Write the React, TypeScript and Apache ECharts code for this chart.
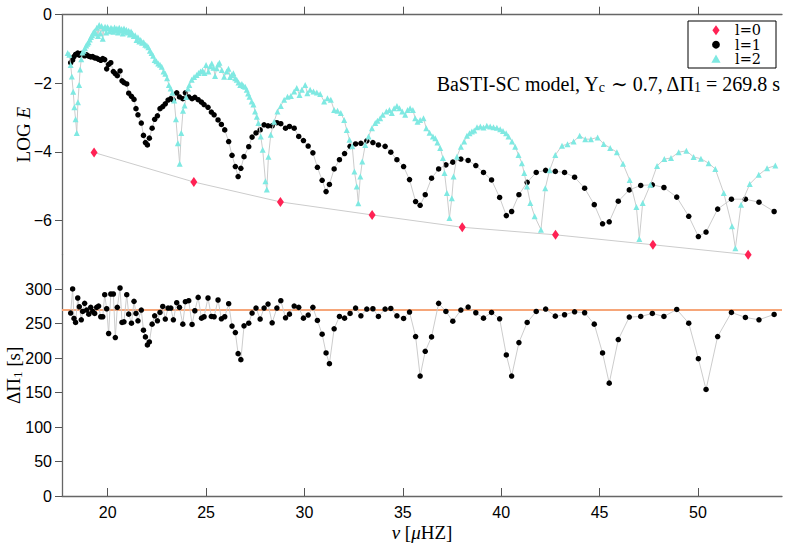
import React, { useEffect, useRef } from 'react';
import * as echarts from 'echarts';

// ---------- data ----------
const xTickValues = [20, 25, 30, 35, 40, 45, 50];
const topYTickValues = [-6, -4, -2, 0];
const bottomYTickValues = [0, 50, 100, 150, 200, 250, 300];

const legendLabels = ['l=0', 'l=1', 'l=2'];

const l0Freq = [19.31, 24.38, 28.78, 33.44, 38.02, 42.76, 47.71, 52.55];
const l0LogE = [-4.02, -4.88, -5.46, -5.84, -6.2, -6.42, -6.71, -7.0];

const l1Freq = [
  18.12, 18.22, 18.29, 18.37, 18.48, 18.56, 18.66, 18.73, 18.83, 18.93,
  19.04, 19.14, 19.24, 19.34, 19.44, 19.54, 19.65, 19.75, 19.85, 19.95,
  20.05, 20.16, 20.29, 20.39, 20.49, 20.63, 20.73, 20.83, 20.97, 21.07,
  21.21, 21.34, 21.44, 21.54, 21.71, 21.82, 21.92, 22.02, 22.12, 22.26,
  22.39, 22.53, 22.66, 22.8, 22.93, 23.07, 23.21, 23.34, 23.51, 23.65,
  23.82, 23.95, 24.12, 24.29, 24.43, 24.6, 24.77, 24.9, 25.1, 25.27,
  25.41, 25.61, 25.78, 25.95, 26.15, 26.32, 26.49, 26.63, 26.77, 26.93,
  27.17, 27.34, 27.54, 27.75, 27.95, 28.15, 28.36, 28.6, 28.8, 29.04,
  29.24, 29.48, 29.71, 29.95, 30.19, 30.43, 30.66, 30.9, 31.1, 31.27,
  31.51, 31.78, 32.04, 32.32, 32.6, 32.87, 33.17, 33.48, 33.76, 34.1,
  34.39, 34.7, 35.04, 35.34, 35.65, 35.88, 36.14, 36.46, 36.82, 37.19,
  37.54, 37.95, 38.32, 38.71, 39.1, 39.51, 39.92, 40.26, 40.53, 40.9,
  41.32, 41.78, 42.26, 42.75, 43.22, 43.73, 44.24, 44.73, 45.15, 45.49,
  45.95, 46.51, 47.09, 47.68, 48.27, 48.92, 49.53, 50.02, 50.41, 51.0,
  51.7, 52.41, 53.1, 53.87,
];
const l1LogE = [
  -1.4, -1.32, -1.22, -1.16, -1.12, -1.18, -1.13, -1.16, -1.2, -1.17,
  -1.21, -1.23, -1.22, -1.26, -1.27, -1.3, -1.33, -1.28, -1.31, -1.58,
  -1.45, -1.4, -1.66, -1.72, -1.78, -1.64, -1.93, -1.98, -2.02, -2.29,
  -2.38, -2.47, -2.74, -2.92, -3.16, -3.52, -3.73, -3.8, -3.6, -3.31,
  -3.05, -2.95, -2.74, -2.68, -2.6, -2.49, -2.45, -2.49, -2.28, -2.4,
  -2.45, -2.28, -2.4, -2.45, -2.41, -2.48, -2.55, -2.62, -2.7, -2.84,
  -2.92, -3.07, -3.2, -3.36, -3.7, -4.1, -4.43, -4.72, -4.48, -4.14,
  -3.85, -3.57, -3.45, -3.36, -3.21, -3.24, -3.24, -3.15, -3.18, -3.31,
  -3.26, -3.31, -3.55, -3.67, -3.83, -4.03, -4.45, -4.83, -5.16, -4.95,
  -4.5, -4.23, -4.05, -3.84, -3.77, -3.75, -3.68, -3.73, -3.8, -3.84,
  -4.01, -4.23, -4.43, -4.81, -5.45, -5.56, -5.25, -4.77, -4.5, -4.38,
  -4.3, -4.21, -4.25, -4.4, -4.6, -4.82, -5.33, -5.86, -5.74, -5.25,
  -4.89, -4.6, -4.54, -4.57, -4.6, -4.74, -5.06, -5.54, -6.1, -6.04,
  -5.44, -5.11, -4.98, -4.96, -5.04, -5.32, -5.88, -6.47, -6.34, -5.67,
  -5.38, -5.38, -5.47, -5.74,
];
const l1DeltaPi = [
  265.3, 300.3, 257.5, 251.7, 287.2, 274.5, 255.6, 267.7, 279.4, 269.7,
  263.8, 273.6, 267.7, 264.8, 273.6, 275.5, 260.0, 260.0, 292.0, 271.6,
  235.7, 293.0, 293.0, 229.8, 273.6, 301.7, 251.7, 252.7, 292.0, 263.8,
  250.7, 282.3, 264.8, 254.1, 269.7, 240.5, 230.8, 219.1, 223.5, 249.3,
  261.4, 254.1, 266.3, 275.0, 256.6, 272.6, 272.6, 255.6, 280.4, 273.6,
  249.3, 281.8, 283.3, 248.8, 268.7, 288.1, 258.0, 260.0, 287.2, 260.4,
  260.0, 284.3, 257.0, 260.0, 278.9, 246.4, 237.1, 206.5, 197.8, 246.8,
  250.7, 265.3, 272.6, 256.6, 272.6, 278.4, 251.2, 272.6, 283.3, 258.5,
  263.8, 275.5, 273.6, 258.0, 262.4, 273.6, 254.6, 234.7, 207.5, 191.9,
  242.5, 260.4, 258.0, 264.8, 272.6, 261.4, 271.1, 271.6, 260.4, 271.1,
  272.1, 261.4, 257.5, 266.8, 231.3, 174.0, 209.9, 230.8, 279.4, 267.7,
  253.6, 269.7, 274.0, 265.8, 258.0, 266.3, 257.0, 204.6, 174.0, 222.5,
  251.7, 267.7, 271.1, 260.9, 262.9, 267.2, 265.8, 249.3, 207.5, 163.7,
  226.9, 259.5, 260.4, 264.8, 260.4, 270.6, 250.7, 199.2, 154.5, 231.3,
  266.3, 259.0, 255.6, 263.4,
];

const l2Freq = [
  17.97, 18.05, 18.12, 18.18, 18.25, 18.31, 18.37, 18.43, 18.49, 18.55,
  18.6, 18.66, 18.72, 18.78, 18.85, 18.91, 18.97, 19.03, 19.09, 19.15,
  19.21, 19.27, 19.33, 19.39, 19.45, 19.51, 19.57, 19.63, 19.69, 19.75,
  19.81, 19.87, 19.93, 19.99, 20.05, 20.11, 20.17, 20.23, 20.29, 20.35,
  20.41, 20.47, 20.53, 20.59, 20.65, 20.71, 20.77, 20.83, 20.89, 20.95,
  21.01, 21.07, 21.13, 21.19, 21.26, 21.33, 21.4, 21.47, 21.54, 21.61,
  21.68, 21.75, 21.83, 21.91, 21.99, 22.07, 22.15, 22.23, 22.31, 22.39,
  22.48, 22.57, 22.66, 22.75, 22.84, 22.93, 23.02, 23.11, 23.2, 23.29,
  23.38, 23.47, 23.57, 23.66, 23.74, 23.83, 23.91, 23.99, 24.08,
  24.15, 24.27, 24.39, 24.52, 24.62, 24.72, 24.82, 24.92, 25.0, 25.12,
  25.21, 25.29, 25.38, 25.46, 25.54, 25.61, 25.68, 25.8, 25.92, 26.05,
  26.14, 26.22, 26.3, 26.39, 26.48, 26.56, 26.65, 26.74, 26.82, 26.9,
  26.99, 27.07, 27.14, 27.21, 27.32, 27.41, 27.49, 27.58, 27.66, 27.78,
  27.88, 28.02, 28.09, 28.17, 28.29, 28.46, 28.63, 28.8, 28.97, 29.14,
  29.31, 29.48, 29.61, 29.75, 29.87, 30.04, 30.15, 30.29, 30.46, 30.63,
  30.8, 31.0, 31.17, 31.34, 31.51, 31.68, 31.85, 32.02, 32.15, 32.29,
  32.43, 32.54, 32.66, 32.74, 32.84, 32.94, 33.09, 33.26, 33.43, 33.6,
  33.71, 33.85, 33.98, 34.16, 34.32, 34.44, 34.56, 34.7, 34.83, 34.97,
  35.12, 35.24, 35.37, 35.51, 35.63, 35.75, 35.88, 36.05, 36.19, 36.36,
  36.53, 36.65, 36.76, 36.9, 37.04, 37.12, 37.24, 37.37, 37.49, 37.58,
  37.75, 37.95, 38.12, 38.26, 38.39, 38.51, 38.63, 38.77, 38.94, 39.1,
  39.27, 39.44, 39.61, 39.78, 39.95, 40.09, 40.25, 40.37, 40.55, 40.71,
  40.88, 41.05, 41.17, 41.31, 41.48, 41.7, 42.02, 42.24, 42.46, 42.75,
  43.09, 43.37, 43.68, 43.99, 44.27, 44.56, 44.9, 45.21, 45.54, 45.88,
  46.19, 46.53, 46.87, 47.02, 47.19, 47.58, 47.92, 48.29, 48.63, 49.02,
  49.41, 49.78, 50.15, 50.54, 50.88, 51.31, 51.73, 51.9, 52.19, 52.63,
  53.09, 53.51, 53.93,
];
const l2LogE = [
  -1.12, -1.17, -1.47, -1.8, -2.25, -2.7, -3.05, -3.45, -2.55, -2.05,
  -1.6, -1.3, -1.1, -1.05, -0.98, -0.9, -0.85, -0.8, -0.72, -0.65,
  -0.6, -0.52, -0.48, -0.55, -0.38, -0.62, -0.3, -0.55, -0.33, -0.7,
  -0.4, -0.35, -0.52, -0.36, -0.4, -0.48, -0.38, -0.42, -0.5, -0.37,
  -0.45, -0.4, -0.52, -0.38, -0.47, -0.42, -0.55, -0.4, -0.48, -0.44,
  -0.52, -0.47, -0.58, -0.49, -0.55, -0.62, -0.6, -0.74, -0.66, -0.78,
  -0.74, -0.82, -0.8, -0.88, -0.9, -0.95, -1.05, -1.12, -1.2, -1.32,
  -1.36, -1.42, -1.46, -1.52, -1.66, -1.72, -1.85, -2.05, -2.15, -2.28,
  -2.5, -3.05, -3.75, -4.35, -3.45, -2.8, -2.65, -2.4, -2.15,
  -2.05, -1.9, -1.82, -1.76, -1.7, -1.66, -1.63, -1.7, -1.47, -1.66,
  -1.5, -1.42, -1.55, -1.79, -1.56, -1.45, -1.4, -1.61, -1.81, -1.66,
  -1.58, -1.82, -1.76, -1.71, -1.85, -1.9, -1.98, -2.05, -2.02, -2.08,
  -2.1, -2.19, -2.3, -2.39, -2.53, -2.62, -2.82, -2.98, -3.16, -3.55,
  -3.94, -4.86, -5.1, -4.14, -3.5, -3.12, -2.82, -2.66, -2.48, -2.39,
  -2.37, -2.24, -2.14, -2.34, -2.19, -2.05, -2.29, -2.19, -2.24, -2.27,
  -2.31, -2.53, -2.44, -2.48, -2.78, -2.8, -2.87, -3.07, -3.36, -3.65,
  -3.84, -4.57, -5.01, -5.5, -4.72, -4.28, -3.8, -3.55, -3.31, -3.16,
  -3.09, -3.02, -2.92, -2.82, -2.78, -2.87, -2.73, -2.66, -2.73, -2.82,
  -2.92, -2.78, -2.73, -2.78, -3.02, -3.12, -3.07, -3.02, -3.31, -3.44,
  -3.55, -3.6, -3.73, -3.89, -4.18, -4.62, -5.2, -5.93, -5.35, -4.72,
  -4.14, -3.85, -3.7, -3.53, -3.46, -3.41, -3.38, -3.28, -3.26, -3.29,
  -3.24, -3.26, -3.28, -3.3, -3.34, -3.39, -3.46, -3.55, -3.7, -3.85,
  -4.09, -4.33, -4.62, -5.01, -5.49, -5.88, -6.27, -5.06, -4.54, -4.09,
  -3.82, -3.78, -3.7, -3.53, -3.63, -3.63, -3.58, -3.77, -3.89, -4.01,
  -4.35, -4.82, -5.61, -6.54, -5.49, -4.96, -4.41, -4.21, -4.18, -4.01,
  -3.97, -4.15, -4.2, -4.33, -4.5, -5.2, -6.17, -6.81, -5.54, -4.94,
  -4.67, -4.48, -4.4,
];

const meanDeltaPi = 269.8;

// ---------- styling ----------
const SERIF = '"Liberation Serif", "DejaVu Serif", serif';
const LEGEND_SERIF = '"DejaVu Serif", "Liberation Serif", serif';
const SANS = '"Liberation Sans", Arial, sans-serif';
const AXIS_COLOR = '#666666';
const LINK_COLOR = '#cccccc';
const RED = '#ff2254';
const CYAN = '#7fe9e2';
const ORANGE = '#f6a679';

const X_MIN = 17.68;
const X_MAX = 54.27;

const zip = (xs: number[], ys: number[]) => xs.map((x, i) => [x, ys[i]]);
const minusFmt = (v: number) => (v < 0 ? '\u2212' + Math.abs(v) : String(v));

function makeRich(size: number, subSize: number) {
  return {
    n: { fontFamily: SERIF, fontSize: size, color: '#000', lineHeight: size + 1, padding: [0, 0, 4, 0], verticalAlign: 'top' },
    i: { fontFamily: SERIF, fontSize: size, color: '#000', fontStyle: 'italic', lineHeight: size + 1, padding: [0, 0, 4, 0], verticalAlign: 'top' },
    s: { fontFamily: SERIF, fontSize: subSize, color: '#000', lineHeight: subSize + 1, verticalAlign: 'bottom' },
  };
}

function buildLegend(): any[] {
  // legend box drawn as graphics (box 688..776 x 21..68)
  const bx = 688;
  const by = 21;
  const rowGap = 14.5;
  const rows = [30.2, 30.2 + rowGap, 30.2 + 2 * rowGap];
  const ix = 716;
  const tx = 735;
  const els: any[] = [
    {
      type: 'rect',
      shape: { x: bx, y: by, width: 88, height: 47 },
      style: { fill: '#ffffff', stroke: '#000000', lineWidth: 1 },
      z: 100,
    },
    {
      type: 'polygon',
      shape: { points: [[ix, rows[0] - 5], [ix + 3.6, rows[0]], [ix, rows[0] + 5], [ix - 3.6, rows[0]]] },
      style: { fill: RED },
      z: 101,
    },
    {
      type: 'circle',
      shape: { cx: ix, cy: rows[1], r: 3.9 },
      style: { fill: '#000000' },
      z: 101,
    },
    {
      type: 'polygon',
      shape: { points: [[ix, rows[2] - 4.8], [ix + 4.6, rows[2] + 3.6], [ix - 4.6, rows[2] + 3.6]] },
      style: { fill: CYAN },
      z: 101,
    },
  ];
  legendLabels.forEach((label, k) => {
    els.push({
      type: 'text',
      x: tx,
      y: rows[k],
      style: {
        text: label,
        fontFamily: LEGEND_SERIF,
        fontSize: 14.5,
        lineHeight: 14,
        fill: '#000',
        align: 'left',
        verticalAlign: 'middle',
      },
      z: 101,
    });
  });
  return els;
}

function buildOption(): any {
  const xAxisBase = {
    type: 'value',
    min: X_MIN,
    max: X_MAX,
    splitLine: { show: false },
    axisLine: { lineStyle: { color: AXIS_COLOR, width: 1.3 } },
    axisTick: {
      inside: true,
      length: 8,
      customValues: xTickValues,
      lineStyle: { color: '#555', width: 1 },
    },
  };
  const yAxisBase = {
    type: 'value',
    splitLine: { show: false },
    axisLine: { show: true, lineStyle: { color: AXIS_COLOR, width: 1.3 } },
    nameLocation: 'middle',
    nameMoveOverlap: false,
  };
  const axisRich = makeRich(19, 13);
  const noteRich = makeRich(20, 14);

  return {
    animation: false,
    backgroundColor: '#ffffff',
    grid: [
      { left: 62, top: 14.7, width: 720, height: 240, containLabel: false, outerBoundsMode: 'none' },
      { left: 62, top: 254.7, width: 720, height: 241.3, containLabel: false, outerBoundsMode: 'none' },
    ],
    xAxis: [
      {
        ...xAxisBase,
        gridIndex: 0,
        axisLabel: { show: false },
      },
      {
        ...xAxisBase,
        gridIndex: 1,
        axisLabel: {
          show: true,
          customValues: xTickValues,
          fontFamily: SANS,
          fontSize: 16,
          color: '#000',
          margin: 8,
        },
        name: '{i|ν} [{i|μ}HZ]',
        nameLocation: 'middle',
        nameGap: 27,
        nameMoveOverlap: false,
        nameTextStyle: {
          fontFamily: SERIF,
          fontSize: 19,
          color: '#000',
          rich: {
            i: { fontFamily: SERIF, fontSize: 19, fontStyle: 'italic', color: '#000' },
          },
        },
      },
    ],
    yAxis: [
      {
        ...yAxisBase,
        gridIndex: 0,
        min: -7,
        max: 0,
        axisTick: { show: true, length: 7, customValues: topYTickValues, lineStyle: { color: '#555' } },
        axisLabel: {
          customValues: topYTickValues,
          formatter: minusFmt,
          fontFamily: SANS,
          fontSize: 16,
          color: '#000',
          margin: 10,
        },
        name: '{n|LOG }{i|E}',
        nameGap: 28,
        nameTextStyle: { rich: axisRich },
      },
      {
        ...yAxisBase,
        gridIndex: 1,
        min: 0,
        max: 350,
        axisTick: { show: true, length: 7, customValues: bottomYTickValues, lineStyle: { color: '#555' } },
        axisLabel: {
          customValues: bottomYTickValues,
          fontFamily: SANS,
          fontSize: 16,
          color: '#000',
          margin: 10,
        },
        name: '{n|ΔΠ}{s|1}{n| [s]}',
        nameGap: 38,
        nameTextStyle: { rich: axisRich },
      },
    ],
    graphic: [
      {
        type: 'text',
        x: 780,
        y: 84,
        style: {
          text: '{n|BaSTI-SC model, Y}{s|c}{n| ∼ 0.7, ΔΠ}{s|1}{n| = 269.8 s}',
          align: 'right',
          verticalAlign: 'middle',
          rich: noteRich,
        },
        z: 90,
      },
      ...buildLegend(),
    ],
    series: [
      {
        name: 'l=0',
        type: 'line',
        xAxisIndex: 0,
        yAxisIndex: 0,
        data: zip(l0Freq, l0LogE),
        symbol: 'diamond',
        symbolSize: [7, 10],
        showAllSymbol: true,
        color: RED,
        itemStyle: { color: RED },
        lineStyle: { color: LINK_COLOR, width: 1 },
        z: 3,
      },
      {
        name: 'l=1',
        type: 'line',
        xAxisIndex: 0,
        yAxisIndex: 0,
        data: zip(l1Freq, l1LogE),
        symbol: 'circle',
        symbolSize: 5.5,
        showAllSymbol: true,
        color: '#000000',
        itemStyle: { color: '#000000' },
        lineStyle: { color: LINK_COLOR, width: 1 },
        z: 3,
      },
      {
        name: 'l=2',
        type: 'line',
        xAxisIndex: 0,
        yAxisIndex: 0,
        data: zip(l2Freq, l2LogE),
        symbol: 'triangle',
        symbolSize: 6,
        showAllSymbol: true,
        color: CYAN,
        itemStyle: { color: CYAN },
        lineStyle: { color: LINK_COLOR, width: 1 },
        z: 4,
      },
      {
        name: 'dp1',
        type: 'line',
        xAxisIndex: 1,
        yAxisIndex: 1,
        data: zip(l1Freq, l1DeltaPi),
        symbol: 'circle',
        symbolSize: 5.5,
        showAllSymbol: true,
        color: '#000000',
        itemStyle: { color: '#000000' },
        lineStyle: { color: LINK_COLOR, width: 1 },
        z: 4,
        markLine: {
          silent: true,
          symbol: ['none', 'none'],
          label: { show: false },
          lineStyle: { color: ORANGE, width: 2.2, type: 'solid' },
          data: [{ yAxis: meanDeltaPi }],
          z: 3,
        },
      },
    ],
  };
}

export default function App() {
  const ref = useRef<HTMLDivElement>(null);
  useEffect(() => {
    if (!ref.current) return;
    const chart = echarts.init(ref.current, null, { renderer: 'svg' });
    chart.setOption(buildOption());
    return () => chart.dispose();
  }, []);
  return (
    <div
      ref={ref}
      style={{ position: 'fixed', left: 0, top: 0, width: 788, height: 545, background: '#fff' }}
    />
  );
}
